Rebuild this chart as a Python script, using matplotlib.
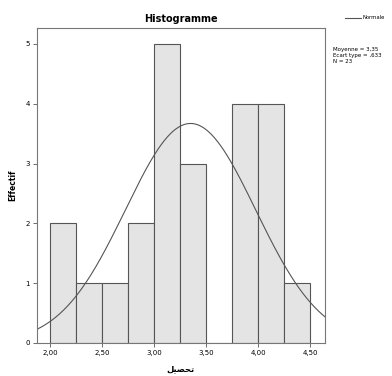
import numpy as np
import matplotlib.pyplot as plt

# histogram values
bin_left = [2.00, 2.25, 2.50, 2.75, 3.00, 3.25, 3.50, 3.75, 4.00, 4.25]
counts = [2, 1, 1, 2, 5, 3, 0, 4, 4, 1]
bin_width = 0.25
mean_val = 3.35
sd_val = 0.625
n_obs = 23
x_ticks = [2.00, 2.50, 3.00, 3.50, 4.00, 4.50]
x_ticklabels = ["2,00", "2,50", "3,00", "3,50", "4,00", "4,50"]
y_ticks = [0, 1, 2, 3, 4, 5]

fig = plt.figure(figsize=(3.92, 3.76), dpi=100)
ax = fig.add_axes([0.094, 0.088, 0.735, 0.838])

ax.bar(bin_left, counts, width=bin_width, align="edge",
       color="#e4e4e4", edgecolor="#555555", linewidth=0.8)

# normal curve
xs = np.linspace(1.875, 4.64, 300)
ys = n_obs * bin_width / (sd_val * np.sqrt(2 * np.pi)) * np.exp(-0.5 * ((xs - mean_val) / sd_val) ** 2)
ax.plot(xs, ys, color="#555555", linewidth=0.8)

ax.set_xlim(1.875, 4.64)
ax.set_ylim(0, 5.27)
ax.set_xticks(x_ticks)
ax.set_xticklabels(x_ticklabels)
ax.set_yticks(y_ticks)
ax.tick_params(labelsize=5, length=3, width=0.6, color="#555555", pad=2)
for s in ax.spines.values():
    s.set_color("#777777")
    s.set_linewidth(0.8)

ax.set_title("Histogramme", fontsize=7, fontweight="bold", pad=4)
ax.set_ylabel("Effectif", fontsize=5.5, fontweight="bold", labelpad=6)
ax.set_xlabel("\ufede\ufef4\ufebc\ufea4\ufe97", fontsize=6, fontweight="bold", labelpad=6)

# legend and stats box, SPSS style
fig.add_artist(plt.Line2D([0.88, 0.92], [0.953, 0.953], color="#555555", linewidth=0.8))
fig.text(0.924, 0.953, "Normale", fontsize=3.8, va="center", ha="left")
fig.text(0.85, 0.875, f"Moyenne = {mean_val:.2f}".replace(".", ",") +
         f"\nEcart type = ,633\nN = {n_obs}",
         fontsize=4, va="top", ha="left", linespacing=1.2)

fig.savefig("out.png", dpi=100)
